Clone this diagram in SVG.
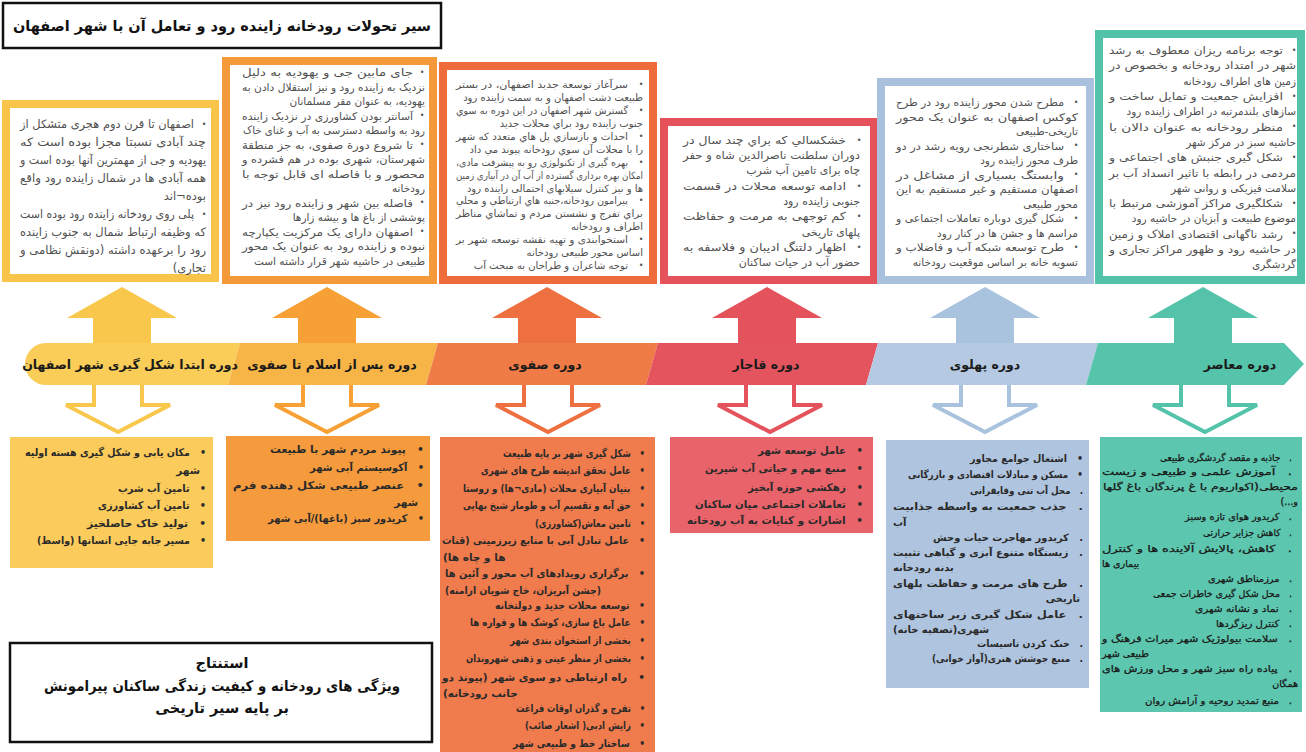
<svg xmlns="http://www.w3.org/2000/svg" width="1306" height="752" viewBox="0 0 1306 752">
<style>
.t{font-family:"DejaVu Sans",sans-serif;direction:rtl;dominant-baseline:central}
.tp{font-size:10.5px;fill:#505050}
.bt{font-size:10.5px;fill:#2a2a2a;font-weight:bold;white-space:pre}
.sm{font-size:10px}
.nw{font-size:9.6px;font-weight:normal;fill:#161616;stroke:#161616;stroke-width:0.25}
.bl{font-family:"DejaVu Sans",sans-serif;font-size:8px;fill:#555;dominant-baseline:central;text-anchor:middle}
.lft{text-anchor:end}
.lab{font-family:"DejaVu Sans",sans-serif;font-size:12.5px;font-weight:bold;fill:#1a1a1a;text-anchor:middle;dominant-baseline:central}
.hd{font-family:"DejaVu Sans",sans-serif;font-weight:bold;fill:#111;text-anchor:middle;dominant-baseline:central}
.up{stroke:none}
.dn{fill:#fff;stroke-width:4;stroke-linejoin:miter}
</style>
<rect width="1306" height="752" fill="#fff"/>

<g id="title">
<rect x="3" y="3" width="438" height="45" fill="#fff" stroke="#111" stroke-width="2.5"/>
<text class="hd" x="222" y="26" font-size="15" textLength="418" lengthAdjust="spacingAndGlyphs">سیر تحولات رودخانه زاینده رود و تعامل آن با شهر اصفهان</text>
</g>

<g id="connectors">
<path class="up" fill="#F8C74C" d="M122,287 L177,318 L151,318 L151,350 L93,350 L93,318 L67,318 Z"/>
<path class="up" fill="#F7A035" d="M327,287 L382,318 L356,318 L356,350 L298,350 L298,318 L272,318 Z"/>
<path class="up" fill="#EE7040" d="M547,287 L602,318 L576,318 L576,350 L518,350 L518,318 L492,318 Z"/>
<path class="up" fill="#E4525B" d="M767,287 L822,318 L796,318 L796,350 L738,350 L738,318 L712,318 Z"/>
<path class="up" fill="#A9C2DE" d="M985,287 L1040,318 L1014,318 L1014,350 L956,350 L956,318 L930,318 Z"/>
<path class="up" fill="#54C3AA" d="M1203,287 L1258,318 L1232,318 L1232,350 L1174,350 L1174,318 L1148,318 Z"/>
<path class="dn" stroke="#F8C74C" d="M94,378 V405 H66 L118,432 L170,405 H142 V378 Z"/>
<path class="dn" stroke="#F7A035" d="M303,378 V405 H275 L327,432 L379,405 H351 V378 Z"/>
<path class="dn" stroke="#EE7040" d="M524,378 V405 H496 L548,432 L600,405 H572 V378 Z"/>
<path class="dn" stroke="#E4525B" d="M746,378 V405 H718 L770,432 L822,405 H794 V378 Z"/>
<path class="dn" stroke="#A9C2DE" d="M961,378 V405 H933 L985,432 L1037,405 H1009 V378 Z"/>
<path class="dn" stroke="#54C3AA" d="M1181,378 V405 H1153 L1205,432 L1257,405 H1229 V378 Z"/>
</g>

<g id="timeline">
<path fill="#F9CD57" d="M46,343 L240,343 L228,385 L46,385 A21,21 0 0 1 46,343 Z"/>
<path fill="#F8B547" d="M240,343 L438,343 L426,385 L228,385 Z"/>
<path fill="#EF7B46" d="M438,343 L658,343 L646,385 L426,385 Z"/>
<path fill="#E3545E" d="M658,343 L878,343 L866,385 L646,385 Z"/>
<path fill="#B5C9E3" d="M878,343 L1098,343 L1086,385 L866,385 Z"/>
<path fill="#56C3AB" d="M1098,343 L1284,343 L1304,364 L1284,385 L1086,385 Z"/>
<text class="lab" x="130" y="364">دوره ابتدا شکل گیری شهر اصفهان</text>
<text class="lab" x="332" y="364">دوره پس از اسلام تا صفوی</text>
<text class="lab" x="545" y="364">دوره صفوی</text>
<text class="lab" x="766" y="364">دوره قاجار</text>
<text class="lab" x="985" y="364">دوره پهلوی</text>
<text class="lab" x="1240" y="364">دوره معاصر</text>
</g>

<g id="top-1">
<rect x="6" y="104" width="209" height="174" fill="#fff" stroke="#F8C54A" stroke-width="8"/>
<text class="bl" x="204" y="124">•</text>
<text class="t tp" style="font-size:11.5px" x="194" y="124" textLength="174" lengthAdjust="spacingAndGlyphs">اصفهان تا قرن دوم هجری متشکل از</text>
<text class="t tp" style="font-size:11.5px" x="206" y="142" textLength="186" lengthAdjust="spacingAndGlyphs">چند آبادی نسبتا مجزا بوده است که</text>
<text class="t tp" style="font-size:11.5px" x="206" y="160" textLength="186" lengthAdjust="spacingAndGlyphs">یهودیه و جی از مهمترین آنها بوده است و</text>
<text class="t tp" style="font-size:11.5px" x="206" y="178" textLength="186" lengthAdjust="spacingAndGlyphs">همه آبادی ها در شمال زاینده رود واقع</text>
<text class="t tp" style="font-size:11.5px" x="206" y="196">بوده¬اند</text>
<text class="bl" x="204" y="214">•</text>
<text class="t tp" style="font-size:11.5px" x="194" y="214" textLength="174" lengthAdjust="spacingAndGlyphs">پلی روی رودخانه زاینده رود بوده است</text>
<text class="t tp" style="font-size:11.5px" x="206" y="232" textLength="186" lengthAdjust="spacingAndGlyphs">که وظیفه ارتباط شمال به جنوب زاینده</text>
<text class="t tp" style="font-size:11.5px" x="206" y="250" textLength="186" lengthAdjust="spacingAndGlyphs">رود را برعهده داشته (دونقش نظامی و</text>
<text class="t tp" style="font-size:11.5px" x="206" y="268">تجاری)</text>
</g>

<g id="top-2">
<rect x="226" y="61" width="207" height="219" fill="#fff" stroke="#F59A3A" stroke-width="8"/>
<text class="bl" x="422" y="72">•</text>
<text class="t tp" x="413" y="72" textLength="171" lengthAdjust="spacingAndGlyphs">جای مابین جی و یهودیه به دلیل</text>
<text class="t tp" x="425" y="86.5" textLength="183" lengthAdjust="spacingAndGlyphs">نزدیک به زاینده رود و نیز استقلال دادن به</text>
<text class="t tp" x="425" y="101">یهودیه، به عنوان مقر مسلمانان</text>
<text class="bl" x="422" y="115.5">•</text>
<text class="t tp" x="413" y="115.5" textLength="171" lengthAdjust="spacingAndGlyphs">آسانتر بودن کشاورزی در نزدیک زاینده</text>
<text class="t tp" x="425" y="130" textLength="182" lengthAdjust="spacingAndGlyphs">رود به واسطه دسترسی به آب و غنای خاک</text>
<text class="bl" x="422" y="144.5">•</text>
<text class="t tp" x="413" y="144.5" textLength="171" lengthAdjust="spacingAndGlyphs">تا شروع دورة صفوی، به جز منطقة</text>
<text class="t tp" x="425" y="159" textLength="183" lengthAdjust="spacingAndGlyphs">شهرستان، شهری بوده در هم فشرده و</text>
<text class="t tp" x="425" y="173.5" textLength="183" lengthAdjust="spacingAndGlyphs">محصور و با فاصله ای قابل توجه با</text>
<text class="t tp" x="425" y="188">رودخانه</text>
<text class="bl" x="422" y="202.5">•</text>
<text class="t tp" x="413" y="202.5" textLength="171" lengthAdjust="spacingAndGlyphs">فاصله بین شهر و زاینده رود نیز در</text>
<text class="t tp" x="425" y="217">پوششی از باغ ها و بیشه زارها</text>
<text class="bl" x="422" y="231.5">•</text>
<text class="t tp" x="413" y="231.5" textLength="171" lengthAdjust="spacingAndGlyphs">اصفهان دارای یک مرکزیت یکپارچه</text>
<text class="t tp" x="425" y="246" textLength="183" lengthAdjust="spacingAndGlyphs">نبوده و زاینده رود به عنوان یک محور</text>
<text class="t tp" x="425" y="260.5">طبیعی در حاشیه شهر قرار داشته است</text>
</g>

<g id="top-3">
<rect x="443" y="66" width="210" height="214" fill="#fff" stroke="#EE6B3B" stroke-width="8"/>
<text class="bl" x="641" y="84">•</text>
<text class="t tp" style="font-size:10px" x="628" y="84" textLength="172" lengthAdjust="spacingAndGlyphs">سرآغاز توسعة جدید اصفهان، در بستر</text>
<text class="t tp" style="font-size:10px" x="643" y="97">طبیعت دشت اصفهان و به سمت زاینده رود</text>
<text class="bl" x="641" y="110">•</text>
<text class="t tp" style="font-size:10px" x="628" y="110" textLength="172" lengthAdjust="spacingAndGlyphs">گسترش شهر اصفهان در این دوره به سوي</text>
<text class="t tp" style="font-size:10px" x="643" y="123">جنوب زاینده رود  براي محلات جدید</text>
<text class="bl" x="641" y="136">•</text>
<text class="t tp" style="font-size:10px" x="628" y="136" textLength="172" lengthAdjust="spacingAndGlyphs">احداث و بازسازي پل هاي متعدد که شهر</text>
<text class="t tp" style="font-size:10px" x="643" y="149">را با محلات آن سوي رودخانه پیوند مي داد</text>
<text class="bl" x="641" y="162">•</text>
<text class="t tp" style="font-size:10px" x="628" y="162" textLength="172" lengthAdjust="spacingAndGlyphs">بهره گیری از تکنولوژی رو به پیشرفت مادی،</text>
<text class="t tp" style="font-size:10px" x="643" y="175" textLength="187" lengthAdjust="spacingAndGlyphs">امکان بهره برداری گسترده از آب آن در آبیاری زمین</text>
<text class="t tp" style="font-size:10px" x="643" y="188">ها و نیز کنترل سیلابهای احتمالی زاینده رود</text>
<text class="bl" x="641" y="200.5">•</text>
<text class="t tp" style="font-size:10px" x="628" y="200.5" textLength="172" lengthAdjust="spacingAndGlyphs">پیرامون رودخانه،جنبه هاي ارتباطي و محلي</text>
<text class="t tp" style="font-size:10px" x="643" y="213.5" textLength="187" lengthAdjust="spacingAndGlyphs">براي تفرج و نشستن مردم و تماشاي مناظر</text>
<text class="t tp" style="font-size:10px" x="643" y="226.5">اطراف و رودخانه</text>
<text class="bl" x="641" y="239.5">•</text>
<text class="t tp" style="font-size:10px" x="628" y="239.5" textLength="172" lengthAdjust="spacingAndGlyphs">استخوابندی و تهیه نقشه توسعه شهر بر</text>
<text class="t tp" style="font-size:10px" x="643" y="252.5">اساس محور طبیعی رودخانه</text>
<text class="bl" x="641" y="265.5">•</text>
<text class="t tp" style="font-size:10px" x="628" y="265.5">توجه شاعران و طراحان به مبحث آب</text>
</g>

<g id="top-4">
<rect x="664" y="122" width="210" height="158" fill="#fff" stroke="#E5525A" stroke-width="8"/>
<text class="bl" x="859" y="140">•</text>
<text class="t tp" style="font-size:11px" x="846" y="140" textLength="163" lengthAdjust="spacingAndGlyphs">خشکسالي که براي چند سال در</text>
<text class="t tp" style="font-size:11px" x="860" y="155.3" textLength="177" lengthAdjust="spacingAndGlyphs">دوران سلطنت ناصرالدین شاه و حفر</text>
<text class="t tp" style="font-size:11px" x="860" y="170.6">چاه برای تامین آب شرب</text>
<text class="bl" x="859" y="186">•</text>
<text class="t tp" style="font-size:11px" x="846" y="186" textLength="163" lengthAdjust="spacingAndGlyphs">ادامه توسعه محلات در قسمت</text>
<text class="t tp" style="font-size:11px" x="860" y="201">جنوبی زاینده رود</text>
<text class="bl" x="859" y="216.5">•</text>
<text class="t tp" style="font-size:11px" x="846" y="216.5" textLength="163" lengthAdjust="spacingAndGlyphs">کم توجهی به مرمت و حفاظت</text>
<text class="t tp" style="font-size:11px" x="860" y="232">پلهای تاریخی</text>
<text class="bl" x="859" y="247">•</text>
<text class="t tp" style="font-size:11px" x="846" y="247" textLength="163" lengthAdjust="spacingAndGlyphs">اظهار دلتنگ ادیبان و فلاسفه به</text>
<text class="t tp" style="font-size:11px" x="860" y="262">حضور آب در حیات ساکنان</text>
</g>

<g id="top-5">
<rect x="881" y="82" width="209" height="198" fill="#fff" stroke="#A9C1DD" stroke-width="8"/>
<text class="bl" x="1076" y="102">•</text>
<text class="t tp" x="1064" y="102" textLength="168" lengthAdjust="spacingAndGlyphs">مطرح شدن محور زاینده رود در طرح</text>
<text class="t tp" x="1078" y="116.5" textLength="182" lengthAdjust="spacingAndGlyphs">کوکس اصفهان به عنوان یک محور</text>
<text class="t tp" x="1078" y="131">تاریخی-طبیعی</text>
<text class="bl" x="1076" y="145.5">•</text>
<text class="t tp" x="1064" y="145.5" textLength="168" lengthAdjust="spacingAndGlyphs">ساختاری شطرنجی رویه رشد در دو</text>
<text class="t tp" x="1078" y="160">طرف محور زاینده رود</text>
<text class="bl" x="1076" y="174.5">•</text>
<text class="t tp" x="1064" y="174.5" textLength="168" lengthAdjust="spacingAndGlyphs">وابستگ بسیاری از مشاغل در</text>
<text class="t tp" x="1078" y="189" textLength="182" lengthAdjust="spacingAndGlyphs">اصفهان مستقیم و غیر مستقیم به این</text>
<text class="t tp" x="1078" y="203.5">محور طبیعی</text>
<text class="bl" x="1076" y="218">•</text>
<text class="t tp" x="1064" y="218" textLength="168" lengthAdjust="spacingAndGlyphs">شکل گیری دوباره تعاملات اجتماعی و</text>
<text class="t tp" x="1078" y="232.5">مراسم ها و جشن ها در کنار رود</text>
<text class="bl" x="1076" y="247">•</text>
<text class="t tp" x="1064" y="247" textLength="168" lengthAdjust="spacingAndGlyphs">طرح توسعه شبکه آب و فاضلاب و</text>
<text class="t tp" x="1078" y="261.5">تسویه خانه بر اساس موقعیت رودخانه</text>
</g>

<g id="top-6">
<rect x="1099" y="34" width="202" height="246" fill="#fff" stroke="#52C2A9" stroke-width="8"/>
<text class="bl" x="1294" y="50">•</text>
<text class="t tp" x="1283" y="50" textLength="174" lengthAdjust="spacingAndGlyphs">توجه برنامه ریزان معطوف به رشد</text>
<text class="t tp" x="1296" y="65.3" textLength="187" lengthAdjust="spacingAndGlyphs">شهر در امتداد رودخانه و بخصوص در</text>
<text class="t tp" x="1296" y="80.6">زمین های اطراف رودخانه</text>
<text class="bl" x="1294" y="96">•</text>
<text class="t tp" x="1283" y="96" textLength="174" lengthAdjust="spacingAndGlyphs">افزایش جمعیت و تمایل ساخت و</text>
<text class="t tp" x="1296" y="111">سازهای بلندمرتبه در اطراف زاینده رود</text>
<text class="bl" x="1294" y="126.5">•</text>
<text class="t tp" x="1283" y="126.5" textLength="174" lengthAdjust="spacingAndGlyphs">منظر رودخانه به عنوان دالان با</text>
<text class="t tp" x="1296" y="142">حاشیه سبز در مرکز شهر</text>
<text class="bl" x="1294" y="157">•</text>
<text class="t tp" x="1283" y="157" textLength="174" lengthAdjust="spacingAndGlyphs">شکل گیری جنبش های اجتماعی و</text>
<text class="t tp" x="1296" y="172.5" textLength="187" lengthAdjust="spacingAndGlyphs">مردمی در رابطه با تاثیر انسداد آب بر</text>
<text class="t tp" x="1296" y="188">سلامت فیزیکی و روانی شهر</text>
<text class="bl" x="1294" y="203">•</text>
<text class="t tp" x="1283" y="203" textLength="174" lengthAdjust="spacingAndGlyphs">شکلگیری مراکز آموزشی مرتبط با</text>
<text class="t tp" x="1296" y="218">موضوع طبیعت و آبزیان در حاشیه رود</text>
<text class="bl" x="1294" y="233.5">•</text>
<text class="t tp" x="1283" y="233.5" textLength="174" lengthAdjust="spacingAndGlyphs">رشد ناگهانی اقتصادی املاک و زمین</text>
<text class="t tp" x="1296" y="249" textLength="187" lengthAdjust="spacingAndGlyphs">در حاشیه رود و ظهور مراکز تجاری و</text>
<text class="t tp" x="1296" y="264">گردشگری</text>
</g>

<g id="bottom-1">
<rect x="10" y="437" width="203" height="131" fill="#FBCB5B"/>
<text class="t bt" x="206" y="452" textLength="181" lengthAdjust="spacingAndGlyphs">•   مکان یابی و شکل گیری هسته اولیه</text>
<text class="t bt" x="200" y="470">شهر</text>
<text class="t bt" x="206" y="488" textLength="88" lengthAdjust="spacingAndGlyphs">•   تامین آب شرب</text>
<text class="t bt" x="206" y="505" textLength="108" lengthAdjust="spacingAndGlyphs">•   تامین آب کشاورزی</text>
<text class="t bt" x="206" y="523" textLength="119" lengthAdjust="spacingAndGlyphs">•   تولید خاک حاصلخیز</text>
<text class="t bt" x="206" y="540" textLength="169" lengthAdjust="spacingAndGlyphs">•   مسیر جابه جایی انسانها (واسط)</text>
</g>

<g id="bottom-2">
<rect x="226" y="436" width="204" height="105" fill="#F59B3D"/>
<text class="t bt" x="424" y="449" textLength="154" lengthAdjust="spacingAndGlyphs">•   پیوند مردم شهر با طبیعت</text>
<text class="t bt" x="424" y="467" textLength="114" lengthAdjust="spacingAndGlyphs">•   آکوسیستم آبی شهر</text>
<text class="t bt" x="424" y="485" textLength="191" lengthAdjust="spacingAndGlyphs">•   عنصر طبیعی شکل دهنده فرم</text>
<text class="t bt" x="418" y="502">شهر</text>
<text class="t bt" x="424" y="518" textLength="156" lengthAdjust="spacingAndGlyphs">•   کریدور سبز (باغها)/آبی شهر</text>
</g>

<g id="bottom-3">
<rect x="440" y="437" width="215" height="315" fill="#F07B4C"/>
<text class="t bt" x="645" y="453" textLength="142" lengthAdjust="spacingAndGlyphs">•   شکل گیری شهر بر پایه طبیعت</text>
<text class="t bt" x="645" y="470" textLength="164" lengthAdjust="spacingAndGlyphs">•   عامل تحقق اندیشه طرح های شهری</text>
<text class="t bt" x="645" y="488" textLength="182" lengthAdjust="spacingAndGlyphs">•   بنیان آبیاری محلات (مادی¬ها) و روستا</text>
<text class="t bt" x="645" y="505" textLength="182" lengthAdjust="spacingAndGlyphs">•   حق آبه و تقسیم آب و طومار شیخ بهایی</text>
<text class="t bt" x="645" y="523" textLength="110" lengthAdjust="spacingAndGlyphs">•   تامین معاش(کشاورزی)</text>
<text class="t bt" x="645" y="540" textLength="203" lengthAdjust="spacingAndGlyphs">•   عامل تبادل آبی با منابع زیرزمینی (قنات</text>
<text class="t bt lft" x="443" y="557">ها و چاه ها)</text>
<text class="t bt" x="645" y="573" textLength="200" lengthAdjust="spacingAndGlyphs">•   برگزاری رویدادهای آب محور و آئین ها</text>
<text class="t bt lft" x="445" y="590" textLength="156" lengthAdjust="spacingAndGlyphs">(جشن آبریزان، خاج شویان ارامنه)</text>
<text class="t bt" x="645" y="605" textLength="150" lengthAdjust="spacingAndGlyphs">•   توسعه محلات جدید و دولتخانه</text>
<text class="t bt" x="645" y="622" textLength="175" lengthAdjust="spacingAndGlyphs">•   عامل باغ سازی، کوشک ها و فواره ها</text>
<text class="t bt" x="645" y="640" textLength="135" lengthAdjust="spacingAndGlyphs">•   بخشی از استخوان بندی شهر</text>
<text class="t bt" x="645" y="658" textLength="179" lengthAdjust="spacingAndGlyphs">•   بخشی از منظر عینی و ذهنی شهروندان</text>
<text class="t bt" x="645" y="677" textLength="203" lengthAdjust="spacingAndGlyphs">•   راه ارتباطی دو سوی شهر (پیوند دو</text>
<text class="t bt lft" x="443" y="693">جانب رودخانه)</text>
<text class="t bt" x="645" y="708" textLength="129" lengthAdjust="spacingAndGlyphs">•   تفرج و گذران اوقات فراغت</text>
<text class="t bt" x="645" y="725" textLength="120" lengthAdjust="spacingAndGlyphs">•   زایش ادبی( اشعار صائب)</text>
<text class="t bt" x="645" y="743" textLength="132" lengthAdjust="spacingAndGlyphs">•   ساختار خط و طبیعی شهر</text>
</g>

<g id="bottom-4">
<rect x="670" y="437" width="203" height="96" fill="#E8636A"/>
<text class="t bt" x="863" y="450" textLength="105" lengthAdjust="spacingAndGlyphs">•   عامل توسعه شهر</text>
<text class="t bt" x="863" y="468" textLength="158" lengthAdjust="spacingAndGlyphs">•   منبع مهم و حیاتی آب شیرین</text>
<text class="t bt" x="863" y="487" textLength="115" lengthAdjust="spacingAndGlyphs">•   زهکشی حوزه آبخیز</text>
<text class="t bt" x="863" y="504" textLength="168" lengthAdjust="spacingAndGlyphs">•   تعاملات اجتماعی میان ساکنان</text>
<text class="t bt" x="863" y="520" textLength="176" lengthAdjust="spacingAndGlyphs">•   اشارات و کنایات به آب رودخانه</text>
</g>

<g id="bottom-5">
<rect x="886" y="440" width="203" height="248" fill="#AFC5DF"/>
<text class="t bt sm" x="1083" y="458" textLength="113" lengthAdjust="spacingAndGlyphs">•   اشتغال جوامع مجاور</text>
<text class="t bt sm" x="1083" y="474" textLength="175" lengthAdjust="spacingAndGlyphs">•   مسکن و مبادلات اقتصادی و بازرگانی</text>
<text class="t bt sm" x="1083" y="490" textLength="113" lengthAdjust="spacingAndGlyphs">.   محل آب تنی وقایقرانی</text>
<text class="t bt sm" x="1083" y="506" textLength="190" lengthAdjust="spacingAndGlyphs">.   جذب جمعیت به واسطه جذابیت</text>
<text class="t bt sm lft" x="893" y="522">آب</text>
<text class="t bt sm" x="1083" y="537" textLength="150" lengthAdjust="spacingAndGlyphs">.   کریدور مهاجرت حیات وحش</text>
<text class="t bt sm" x="1083" y="552" textLength="190" lengthAdjust="spacingAndGlyphs">.   زیستگاه متنوع آبزی و گیاهی تثبیت</text>
<text class="t bt sm lft" x="893" y="567">بدنه رودخانه</text>
<text class="t bt sm" x="1083" y="583" textLength="190" lengthAdjust="spacingAndGlyphs">.   طرح های مرمت و حفاظت پلهای</text>
<text class="t bt sm" x="1080" y="598">تاریخی</text>
<text class="t bt sm" x="1083" y="614" textLength="190" lengthAdjust="spacingAndGlyphs">.   عامل شکل گیری زیر ساختهای</text>
<text class="t bt sm lft" x="893" y="629">شهری(تصفیه خانه)</text>
<text class="t bt sm" x="1083" y="643" textLength="106" lengthAdjust="spacingAndGlyphs">.   خنک کردن تاسیسات</text>
<text class="t bt sm" x="1083" y="658" textLength="151" lengthAdjust="spacingAndGlyphs">.   منبع جوشش هنری(آواز خوانی)</text>
</g>

<g id="bottom-6">
<rect x="1100" y="437" width="202" height="275" fill="#5DC6AF"/>
<text class="t bt nw" x="1292" y="457" textLength="132" lengthAdjust="spacingAndGlyphs">.   جاذبه و مقصد گردشگری طبیعی</text>
<text class="t bt nw" x="1292" y="471" textLength="190" lengthAdjust="spacingAndGlyphs">.   آموزش علمی و طبیعی و زیست</text>
<text class="t bt nw" x="1298" y="486" textLength="195" lengthAdjust="spacingAndGlyphs">محیطی(اکواریوم با غ پرندگان باغ گلها</text>
<text class="t bt nw" x="1298" y="501">و...)</text>
<text class="t bt nw" x="1292" y="516" textLength="107" lengthAdjust="spacingAndGlyphs">.   کریدور هوای تازه وسبز</text>
<text class="t bt nw" x="1292" y="532" textLength="89" lengthAdjust="spacingAndGlyphs">.   کاهش جزایر حرارتی</text>
<text class="t bt nw" x="1292" y="548" textLength="190" lengthAdjust="spacingAndGlyphs">.   کاهش، پالایش آلاینده ها و کنترل</text>
<text class="t bt nw lft" x="1102" y="563">بیماری ها</text>
<text class="t bt nw" x="1292" y="578" textLength="84" lengthAdjust="spacingAndGlyphs">.   مرزمناطق شهری</text>
<text class="t bt nw" x="1292" y="593" textLength="139" lengthAdjust="spacingAndGlyphs">.   محل شکل گیری خاطرات جمعی</text>
<text class="t bt nw" x="1292" y="608" textLength="97" lengthAdjust="spacingAndGlyphs">.   نماد و نشانه شهری</text>
<text class="t bt nw" x="1292" y="623" textLength="76" lengthAdjust="spacingAndGlyphs">.   کنترل ریزگردها</text>
<text class="t bt nw" x="1292" y="638" textLength="190" lengthAdjust="spacingAndGlyphs">.   سلامت بیولوژیک شهر میراث فرهنگ و</text>
<text class="t bt nw lft" x="1102" y="653">طبیعی شهر</text>
<text class="t bt nw" x="1292" y="668" textLength="190" lengthAdjust="spacingAndGlyphs">.   پیاده راه سبز شهر و محل ورزش های</text>
<text class="t bt nw" x="1298" y="683">همگان</text>
<text class="t bt nw" x="1292" y="700" textLength="147" lengthAdjust="spacingAndGlyphs">.   منبع تمدید روحیه و آرامش روان</text>
</g>

<g id="conclusion">
<rect x="10" y="643" width="422" height="99" fill="#fff" stroke="#111" stroke-width="2.5"/>
<text class="hd" x="222" y="663" font-size="14.5">استنتاج</text>
<text class="hd" x="222" y="686" font-size="14.5" textLength="356" lengthAdjust="spacingAndGlyphs">ویژگی های رودخانه و کیفیت زندگی ساکنان پیرامونش</text>
<text class="hd" x="222" y="708" font-size="14.5">بر پایه سیر تاریخی</text>
</g>
</svg>
